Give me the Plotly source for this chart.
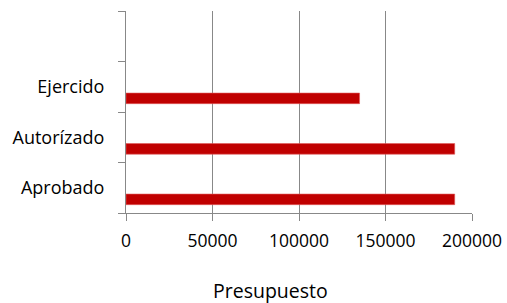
import plotly.graph_objects as go

categories = ["Aprobado", "Autorízado", "Ejercido"]
values = [190000, 190000, 135000]
x_ticks = [0, 50000, 100000, 150000, 200000]
x_title = "Presupuesto"

FONT = "Open Sans"
GRAY = "#888888"

y_pos = list(range(len(categories)))

fig = go.Figure()
fig.add_trace(go.Bar(
    x=values, y=y_pos, orientation="h",
    marker=dict(color="#C00000", line=dict(color="#E05A5A", width=0.6)),
    width=0.21, offset=-0.335,
    showlegend=False, hoverinfo="skip",
))

fig.update_layout(
    width=507, height=303,
    margin=dict(l=126, r=35, t=11, b=90),
    paper_bgcolor="white", plot_bgcolor="white",
    font=dict(family=FONT, size=18, color="#000000"),
    bargap=0,
    xaxis=dict(
        range=[0, 200000], tickvals=x_ticks, ticktext=[str(v) for v in x_ticks],
        showgrid=True, gridcolor=GRAY, gridwidth=1,
        showline=True, linecolor=GRAY, linewidth=1,
        ticks="outside", ticklen=7, tickcolor=GRAY, tickwidth=1,
        zeroline=False, ticklabelstandoff=5, automargin=False,
        tickfont=dict(family=FONT, size=17.5),
    ),
    yaxis=dict(
        range=[-0.5, len(categories) + 0.5],
        tickvals=y_pos, ticktext=categories, ticks="",
        minor=dict(ticks="outside", ticklen=7, tickcolor=GRAY, tickwidth=1,
                   tick0=0.5, dtick=1, showgrid=False),
        showgrid=False, showline=True, linecolor=GRAY, linewidth=1,
        zeroline=False, ticklabelstandoff=17, automargin=False,
        tickfont=dict(family=FONT, size=18),
    ),
    annotations=[dict(
        text=x_title, xref="paper", yref="paper",
        x=(270 - 126) / 346, y=-(290 - 213) / 202, xanchor="center", yanchor="middle",
        showarrow=False, font=dict(family=FONT, size=19.5),
    )],
)

fig.write_html(
    "out.html",
    config={"displayModeBar": False, "staticPlot": True},
    post_script="document.body.style.margin='0';document.body.style.overflow='hidden';",
)
